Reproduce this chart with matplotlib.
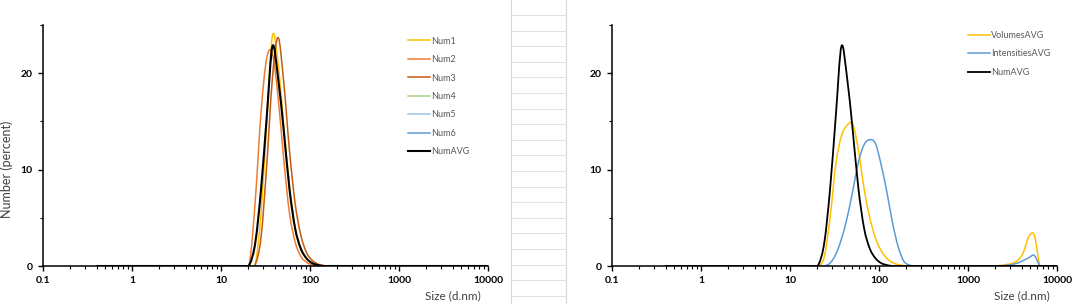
import matplotlib
matplotlib.use('Agg')
import matplotlib.pyplot as plt
import numpy as np
from matplotlib.lines import Line2D
from matplotlib.path import Path
from matplotlib.patches import PathPatch
from matplotlib.ticker import FixedLocator, LogLocator, NullFormatter, FixedFormatter

plt.rcParams['font.family'] = ['Lato', 'DejaVu Sans']

# Zetasizer size classes (d.nm)
sizes = [0.4, 0.4632, 0.5365, 0.6213, 0.7195, 0.8332, 0.9649, 1.117, 1.294, 1.499,
         1.736, 2.01, 2.328, 2.696, 3.122, 3.615, 4.187, 4.849, 5.615, 6.503,
         7.531, 8.721, 10.1, 11.7, 13.54, 15.69, 18.17, 21.04, 24.36, 28.21,
         32.67, 37.84, 43.82, 50.75, 58.77, 68.06, 78.82, 91.28, 105.7, 122.4,
         141.8, 164.2, 190.1, 220.2, 255.0, 295.3, 342.0, 396.1, 458.7, 531.2,
         615.1, 712.4, 825.0, 955.4, 1106, 1281, 1484, 1718, 1990, 2305,
         2669, 3091, 3580, 4145, 4801, 5560, 6439, 7456, 8635, 10000]

# distributions (%): bins 0.4-15.69 are zero, then 18.17 ... 255, zero up to 1718, then 1990 ... 10000
num1 = [0.0] * 26 + [0, 0, 0.3, 5.5, 15.0, 23.9, 21.0, 14.5, 8.3, 4.0,
                     1.8, 0.8, 0.3, 0.1, 0, 0, 0, 0, 0] + [0.0] * 25
num2 = [0.0] * 26 + [0, 0.5, 7.0, 16.0, 21.6, 22.0, 17.5, 11.0, 5.5, 2.5,
                     1.0, 0.4, 0.1, 0, 0, 0, 0, 0, 0] + [0.0] * 25
num3 = [0.0] * 26 + [0, 0, 0.2, 3.0, 10.5, 19.5, 23.7, 19.0, 12.0, 6.5,
                     3.2, 1.4, 0.6, 0.2, 0.05, 0, 0, 0, 0] + [0.0] * 25
num4 = [0.0] * 70
num5 = [0.0] * 70
num6 = [0.0] * 70
num_avg = [0.0] * 26 + [0, 0.2, 2.5, 8.0, 15.5, 22.8, 19.5, 14.0, 8.0, 3.9,
                        1.8, 0.8, 0.3, 0.1, 0, 0, 0, 0, 0] + [0.0] * 25

volumes_avg = [0.0] * 26 + [0, 0, 1.0, 5.0, 10.5, 13.5, 14.6, 14.7, 12.0, 8.0,
                            5.0, 2.9, 1.6, 0.8, 0.35, 0.15, 0.05, 0, 0] + [0.0] * 13 + \
              [0, 0.05, 0.15, 0.25, 0.55, 1.3, 3.0, 3.2, 0, 0, 0, 0]
intensities_avg = [0.0] * 26 + [0, 0, 0, 0.3, 1.2, 2.8, 5.0, 7.8, 10.8, 12.6,
                                13.1, 12.7, 10.5, 7.7, 4.5, 2.0, 0.5, 0.1, 0] + [0.0] * 13 + \
                  [0, 0.02, 0.06, 0.15, 0.3, 0.55, 0.85, 1.1, 0, 0, 0, 0]

left_series = [('Num1', num1, '#FFC000', 1.1),
               ('Num2', num2, '#ED7D31', 1.1),
               ('Num3', num3, '#C55A11', 1.1),
               ('Num4', num4, '#A9D18E', 1.1),
               ('Num5', num5, '#9DC3E6', 1.1),
               ('Num6', num6, '#5B9BD5', 1.1),
               ('NumAVG', num_avg, '#000000', 1.5)]
right_series = [('VolumesAVG', volumes_avg, '#FFC000', 1.1),
                ('IntensitiesAVG', intensities_avg, '#5B9BD5', 1.1),
                ('NumAVG', num_avg, '#000000', 1.3)]

xticks = [0.1, 1, 10, 100, 1000, 10000]
xtick_labels = ['0.1', '1', '10', '100', '1000', '10000']
yticks = [0, 10, 20]

W, H = 1080, 304
fig = plt.figure(figsize=(W / 100, H / 100), dpi=100)

# spreadsheet cells visible between the two charts
grid_c = '#E2E2E2'
fig.add_artist(Line2D([511 / W, 511 / W], [0, 1], color='#D6D6D6', lw=0.8))
fig.add_artist(Line2D([566 / W, 566 / W], [0, 1], color='#D6D6D6', lw=0.8))
y = 15.0
while y < H:
    fig.add_artist(Line2D([511 / W, 566 / W], [1 - y / H, 1 - y / H], color=grid_c, lw=0.8))
    y += 15.6


def smooth_path(xs, ys):
    # Excel-style "smoothed line": cubic Bezier through the points, built in log-x space
    u = np.log10(np.asarray(xs, float))
    v = np.asarray(ys, float)
    n = len(u)
    verts = [(u[0], v[0])]
    codes = [Path.MOVETO]
    for i in range(n - 1):
        a = max(i - 1, 0)
        d = min(i + 2, n - 1)
        c1 = (u[i] + (u[i + 1] - u[a]) / 6, v[i] + (v[i + 1] - v[a]) / 6)
        c2 = (u[i + 1] - (u[d] - u[i]) / 6, v[i + 1] - (v[d] - v[i]) / 6)
        verts += [c1, c2, (u[i + 1], v[i + 1])]
        codes += [Path.CURVE4] * 3
    verts = np.array(verts)
    verts[:, 0] = 10 ** verts[:, 0]
    return Path(verts, codes)


def style_axes(ax, series, legend_x, legend_y, show_ylabel):
    handles = []
    for name, vals, col, lw in series:
        ax.add_patch(PathPatch(smooth_path(sizes, vals), fill=False, edgecolor=col,
                               lw=lw, joinstyle='round'))
        handles.append(Line2D([], [], color=col, lw=lw, label=name))
    ax.set_xscale('log')
    ax.set_xlim(0.1, 10000)
    ax.set_ylim(0, 25)
    for s in ['top', 'right']:
        ax.spines[s].set_visible(False)
    for s in ['left', 'bottom']:
        ax.spines[s].set_linewidth(1.1)
        ax.spines[s].set_color('black')
    ax.xaxis.set_major_locator(FixedLocator(xticks))
    ax.xaxis.set_major_formatter(FixedFormatter(xtick_labels))
    ax.xaxis.set_minor_locator(LogLocator(base=10, subs=range(2, 10)))
    ax.xaxis.set_minor_formatter(NullFormatter())
    ax.yaxis.set_major_locator(FixedLocator(yticks))
    ax.yaxis.set_minor_locator(FixedLocator([5, 15, 25]))
    ax.tick_params(which='major', length=3.5, width=1.0, color='black', pad=4,
                   labelsize=7.5)
    ax.tick_params(which='minor', length=2.5, width=0.8, color='black')
    for lab in ax.get_xticklabels() + ax.get_yticklabels():
        lab.set_fontweight('bold')
    ax.set_xlabel('Size (d.nm)', fontsize=8.5, color='#404040')
    ax.xaxis.set_label_coords(0.92, -0.10)
    if show_ylabel:
        ax.set_ylabel('Number (percent)', fontsize=9, color='#404040')
        ax.yaxis.set_label_coords(-0.067, 0.40)
    ax.legend(handles=handles, loc='upper left', bbox_to_anchor=(legend_x, legend_y),
              frameon=False, fontsize=6.5, labelcolor='#595959', handlelength=2.4,
              handletextpad=0.15, labelspacing=1.05, borderaxespad=0, borderpad=0)


ax1 = fig.add_axes([43 / W, 38 / H, 445 / W, 241 / H])
style_axes(ax1, left_series, 0.82, 0.952, True)

ax2 = fig.add_axes([612 / W, 38 / H, 445 / W, 241 / H])
style_axes(ax2, right_series, 0.80, 0.976, False)

fig.savefig('out.png', dpi=100)
